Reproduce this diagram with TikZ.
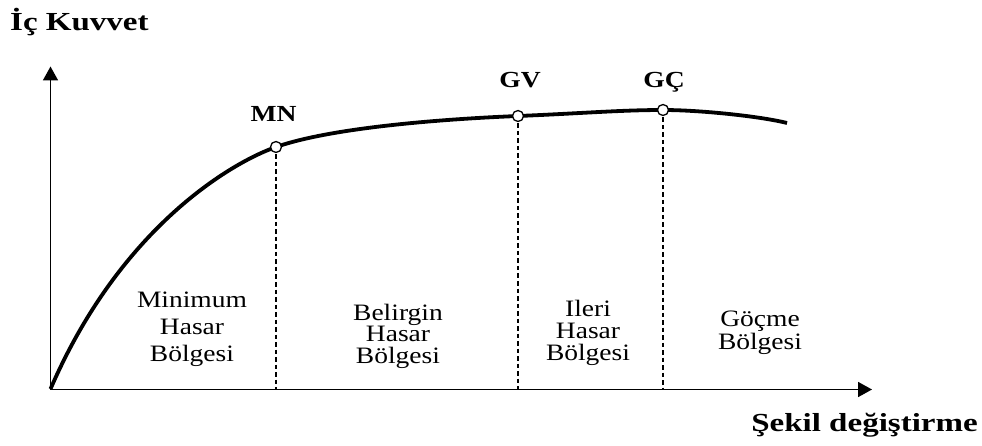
\documentclass[tikz,border=0pt]{standalone}
\usepackage{fontspec}
\setmainfont{Liberation Serif}
\newfontfamily\regfont[FakeStretch=1.17]{Liberation Serif}
\newfontfamily\axfont[FakeStretch=1.27]{Liberation Serif}
\newfontfamily\ptfont[FakeStretch=1.2]{Liberation Serif}
\usetikzlibrary{arrows.meta}
\begin{document}
\begin{tikzpicture}[x=1pt,y=-1pt,
  axis/.style={line width=1.8pt,{Triangle[length=14pt,width=15pt]}-{Triangle[length=14pt,width=15pt]}},
  curve/.style={line width=3.8pt},
  guide/.style={line width=1.2pt,dash pattern=on 4.5pt off 3pt},
  pt/.style={circle,draw,fill=white,line width=1.3pt,minimum size=11pt,inner sep=0pt},
  ptlabel/.style={font=\ptfont\bfseries\fontsize{23}{23}\selectfont,anchor=base,inner sep=0pt},
  axlabel/.style={font=\axfont\bfseries\fontsize{26}{26}\selectfont,inner sep=0pt},
  region/.style={align=center,anchor=base,inner sep=0pt}]
\useasboundingbox (0,0) rectangle (982,446);
\coordinate (O) at (50.5,389.5);
\coordinate (ytip) at (50.5,66.5);
\coordinate (xtip) at (872,389.5);
\draw[axis] (ytip) -- (O) -- (xtip);
\node[axlabel,anchor=base west] (ylab) at (10,30.7) {İç Kuvvet};
\node[axlabel,anchor=base east] (xlab) at (978,431.7) {Şekil değiştirme};
\coordinate (start) at (50.5,389);
\coordinate (mnpt) at (276,147);
\coordinate (gvpt) at (518,116);
\coordinate (gcpt) at (663,110);
\coordinate (cend) at (787,123);
\draw[curve] (start) .. controls (120,228) and (231,162.75) .. (mnpt)
  .. controls (336,126) and (458,118.4) .. (gvpt)
  .. controls (578,113.6) and (620,110) .. (gcpt)
  .. controls (700,110) and (760,116.25) .. (cend);
\coordinate (mnb) at (276,389.5);
\coordinate (gvb) at (518,389.5);
\coordinate (gcb) at (663,389.5);
\draw[guide] (mnpt) -- (mnb);
\draw[guide] (gvpt) -- (gvb);
\draw[guide] (gcpt) -- (gcb);
\node[pt] (MN) at (mnpt) {};
\node[pt] (GV) at (gvpt) {};
\node[pt] (GC) at (gcpt) {};
\node[ptlabel] (MNl) at (273.5,121.7) {MN};
\node[ptlabel] (GVl) at (520,88) {GV};
\node[ptlabel] (GCl) at (664,87.7) {GÇ};
\node[region,font=\regfont\fontsize{23.5}{27}\selectfont] (r1) at (192,361.7) {Minimum\\Hasar\\Bölgesi};
\node[region,font=\regfont\fontsize{23.5}{21.5}\selectfont] (r2) at (398,363.3) {Belirgin\\Hasar\\Bölgesi};
\node[region,font=\regfont\fontsize{23.5}{21.7}\selectfont] (r3) at (588,360) {Ileri\\Hasar\\Bölgesi};
\node[region,font=\regfont\fontsize{23.5}{23.3}\selectfont] (r4) at (760,349.3) {Göçme\\Bölgesi};
\end{tikzpicture}
\end{document}
